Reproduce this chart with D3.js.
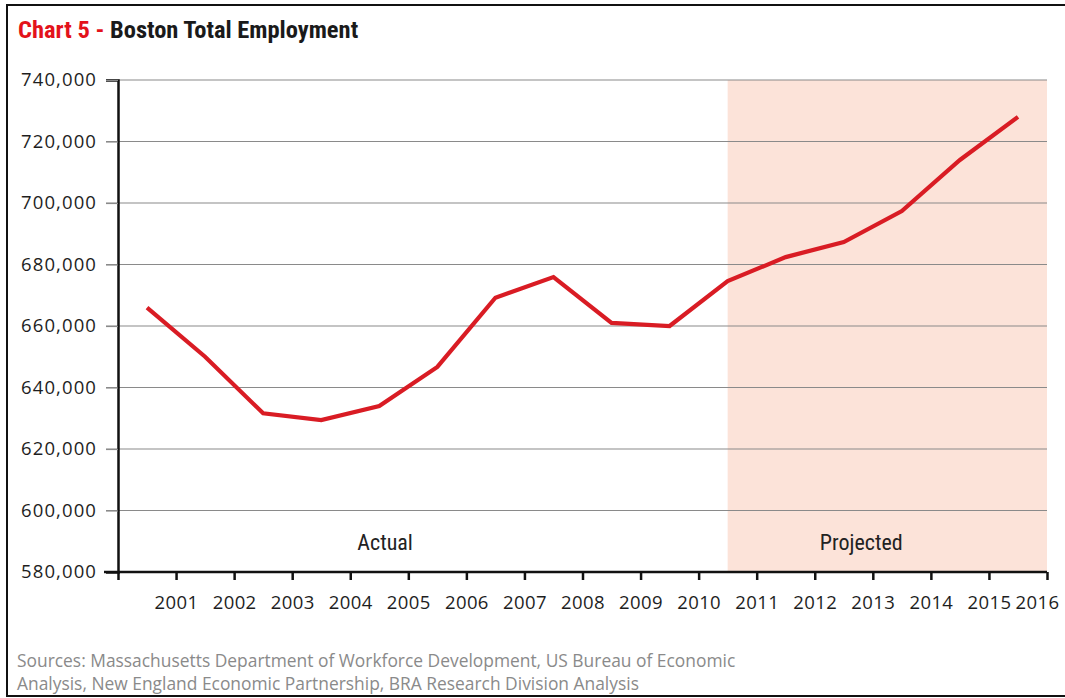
<!DOCTYPE html>
<html><head><meta charset="utf-8">
<script src="https://cdn.jsdelivr.net/npm/d3@7/dist/d3.min.js"></script>
<style>
body{margin:0;background:#fff;}
svg{display:block;}
</style></head>
<body>
<svg id="chart" width="1065" height="698"></svg>
<script>
const years = [2001,2002,2003,2004,2005,2006,2007,2008,2009,2010,2011,2012,2013,2014,2015,2016];
const employment = [666000,650000,631600,629400,634000,646700,669200,675900,661000,660000,674600,682400,687300,697400,714000,728000];
const yTicks = [580000,600000,620000,640000,660000,680000,700000,720000,740000];
const projectedStart = 2010.5;
const title1 = "Chart 5 - ";
const title2 = "Boston Total Employment";
const sources = ["Sources: Massachusetts Department of Workforce Development, US Bureau of Economic",
                 "Analysis, New England Economic Partnership, BRA Research Division Analysis"];

(function(){
const svg = d3.select("#chart");
const mLeft = 118, mRight = 1047, mTop = 80, mBottom = 572;
const x = d3.scaleLinear().domain([2000, 2016]).range([mLeft, mRight]);
const y = d3.scaleLinear().domain([580000, 740000]).range([mBottom, mTop]);

// frame
svg.append("rect").attr("x",7).attr("y",5).attr("width",1070).attr("height",691)
  .attr("fill","none").attr("stroke","#111").attr("stroke-width",2);

// title
const t = svg.append("text").attr("x",18).attr("y",38)
  .attr("font-family","'Liberation Sans Narrow','Roboto Condensed','Liberation Sans',sans-serif")
  .attr("font-weight","bold").attr("font-size",24.5);
t.append("tspan").attr("fill","#e3121b").text(title1);
t.append("tspan").attr("fill","#1a1a1a").text(title2);

// projected shading
svg.append("rect").attr("x",x(projectedStart)).attr("y",mTop)
  .attr("width",x(2016)-x(projectedStart)).attr("height",mBottom-mTop)
  .attr("fill","#fce3d9");

// gridlines
svg.append("g").selectAll("line").data(yTicks.filter(d=>d>580000)).join("line")
  .attr("x1",mLeft-12).attr("x2",mRight).attr("y1",d=>y(d)).attr("y2",d=>y(d))
  .attr("stroke","#8a8a8a").attr("stroke-width",1.2);

// y axis
const yAxis = d3.axisLeft(y).tickValues(yTicks).tickSize(12).tickPadding(9)
  .tickFormat(d3.format(","));
const gy = svg.append("g").attr("transform",`translate(${mLeft},0)`).call(yAxis);
gy.select(".domain").attr("stroke","#111").attr("stroke-width",2.5);
gy.selectAll(".tick line").attr("stroke","#8a8a8a").attr("stroke-width",1.2);
gy.selectAll("text").attr("font-family","'Open Sans',sans-serif").attr("font-size",18.5)
  .attr("letter-spacing",1.1).attr("fill","#1e1e1e");

// x axis
const xAxis = d3.axisBottom(x).tickValues(d3.range(2000,2017)).tickSize(8).tickPadding(16)
  .tickFormat(d=>d===2000?"":String(d));
const gx = svg.append("g").attr("transform",`translate(0,${mBottom})`).call(xAxis);
gx.select(".domain").attr("stroke","#111").attr("stroke-width",2.5).attr("d",`M${mLeft-14},0H${mRight}`);
gx.selectAll(".tick line").attr("stroke","#111").attr("stroke-width",2.5);
gx.selectAll("text").attr("font-family","'Open Sans',sans-serif").attr("font-size",18.5)
  .attr("letter-spacing",0.4).attr("fill","#1e1e1e")
  .attr("dx",d=>d===2016?-10:0);

// line
const line = d3.line().x((d,i)=>x(years[i]-0.5)).y(d=>y(d));
svg.append("path").datum(employment).attr("d",line)
  .attr("fill","none").attr("stroke","#d91c24").attr("stroke-width",4.2).attr("stroke-linejoin","miter");

// labels
const lab = [{t:"Actual",v:2004.6},{t:"Projected",v:2012.8}];
svg.append("g").selectAll("text").data(lab).join("text")
  .attr("x",d=>x(d.v)).attr("y",y(587000)).attr("text-anchor","middle")
  .attr("font-family","'Liberation Sans Narrow','Roboto Condensed',sans-serif").attr("font-size",22).attr("fill","#222")
  .text(d=>d.t);

// sources
svg.append("g").selectAll("text").data(sources).join("text")
  .attr("x",17).attr("y",(d,i)=>667+i*23)
  .attr("font-family","'Open Sans',sans-serif").attr("font-size",17.4).attr("fill","#8a8a8a")
  .text(d=>d);
})();
</script>
</body></html>
